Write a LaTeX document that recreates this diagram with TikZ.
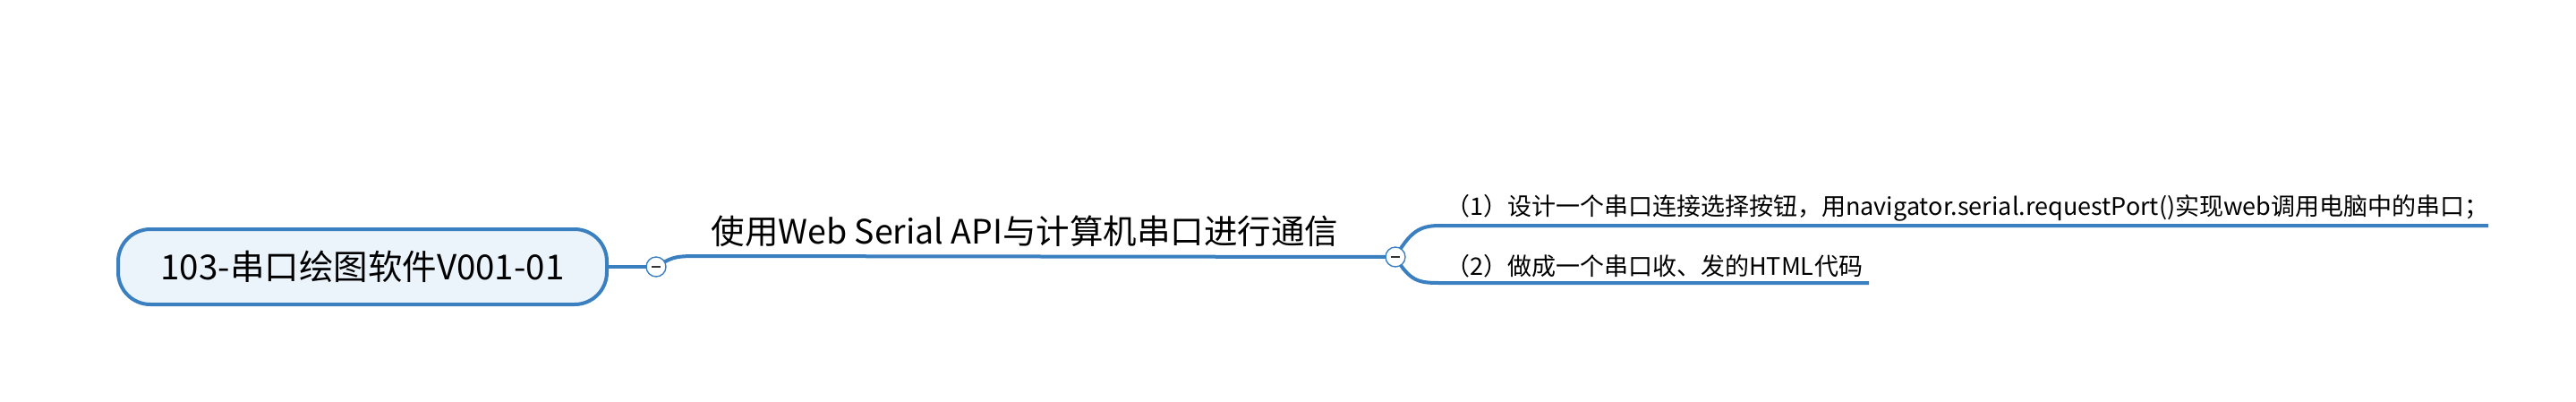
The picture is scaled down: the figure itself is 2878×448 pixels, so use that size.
\documentclass[tikz,border=0pt]{standalone}
\usepackage{fontspec}
\setmainfont{Noto Sans CJK SC}
\usetikzlibrary{backgrounds}
\definecolor{lineblue}{HTML}{3A80C1}
\definecolor{rootfill}{HTML}{EBF3FB}
\definecolor{minusgray}{HTML}{333333}
\begin{document}
\begin{tikzpicture}[x=1pt,y=-1pt,
  conn/.style={draw=lineblue,line width=4pt},
  rootbox/.style={draw=lineblue,line width=4pt,fill=rootfill,rounded corners=36pt,
    minimum width=546pt,minimum height=84pt,inner sep=0pt,
    font=\fontsize{38.5}{42}\selectfont},
  toggle/.style={circle,draw=lineblue,line width=1.4pt,fill=white,minimum size=22pt,inner sep=0pt,
    path picture={\draw[minusgray,line width=1.6pt]
      ([xshift=-5pt]path picture bounding box.center) -- ([xshift=5pt]path picture bounding box.center);}},
  maintext/.style={inner sep=0pt,font=\fontsize{37.5}{41}\selectfont},
  subtext/.style={inner sep=0pt,anchor=west,font=\fontsize{27}{30}\selectfont}
]
\useasboundingbox (0,0) rectangle (2878,448);
\node[rootbox] (root) at (405,298) {103-串口绘图软件V001-01};
\node[toggle] (c1) at (733,298) {};
\node[toggle] (c2) at (1559,287) {};
\node[maintext] (t0) at (1145,258) {使用Web Serial API与计算机串口进行通信};
\node[subtext] (t1) at (1615,232) {（1）设计一个串口连接选择按钮，用navigator.serial.requestPort()实现web调用电脑中的串口；};
\node[subtext] (t2) at (1615,297) {（2）做成一个串口收、发的HTML\kern1pt 代码};
\coordinate (m1) at (778,286);
\coordinate (u1) at (1608,252);
\coordinate (u2) at (2780,252);
\coordinate (d1) at (1608,316);
\coordinate (d2) at (2088,316);
\begin{scope}[on background layer]
\draw[conn] (root.east) -- (c1.center);
\draw[conn] (c1.center) .. controls (750,288) and (752,286) .. (m1) -- (c2.center);
\draw[conn] (c2.center) .. controls (1575,260) and (1585,252) .. (u1) -- (u2);
\draw[conn] (c2.center) .. controls (1575,314) and (1585,316) .. (d1) -- (d2);
\end{scope}
\end{tikzpicture}
\end{document}
